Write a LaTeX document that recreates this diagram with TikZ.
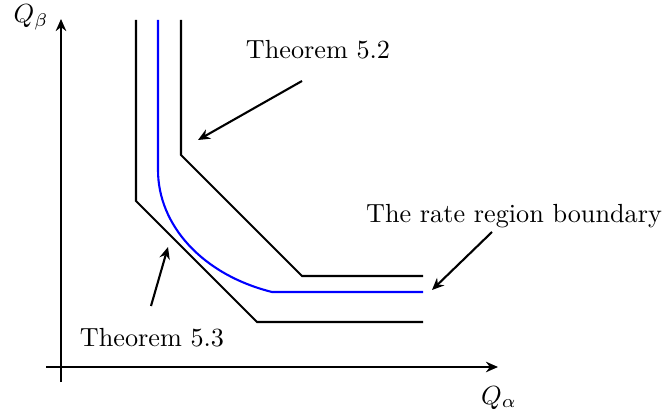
\documentclass[tikz,border=0pt]{standalone}
\usetikzlibrary{arrows.meta}
\begin{document}
\begin{tikzpicture}[x=0.3817pt,y=-0.3817pt,
  axis/.style={thick,-{Stealth[length=4.6pt,width=4pt]}},
  bound/.style={thick,line join=miter},
  rate/.style={thick,blue},
  pointer/.style={thick,-{Stealth[length=4.6pt,width=4pt]}},
  lab/.style={inner sep=0pt,anchor=base}]
\useasboundingbox (0,0) rectangle (664,411);
% axes
\coordinate (yb) at (61,382);
\coordinate (yt) at (61,19);
\coordinate (xl) at (46,367);
\coordinate (xr) at (498,367);
\draw[axis] (yb) -- (yt);
\draw[axis] (xl) -- (xr);
\node[lab] (qb) at (31,23) {$Q_\beta$};
\node[lab] (qa) at (499,404) {$Q_\alpha$};
% bounds
\coordinate (a1) at (136,20);
\coordinate (a2) at (136,201);
\coordinate (a3) at (257,322);
\coordinate (a4) at (423,322);
\draw[bound] (a1) -- (a2) -- (a3) -- (a4);
\coordinate (b1) at (181,20);
\coordinate (b2) at (181,155);
\coordinate (b3) at (302,276);
\coordinate (b4) at (423,276);
\draw[bound] (b1) -- (b2) -- (b3) -- (b4);
\coordinate (c1) at (158,20);
\coordinate (c2) at (158,170);
\coordinate (c3) at (272,292);
\coordinate (c4) at (423,292);
\draw[rate] (c1) -- (c2) .. controls (158,225) and (202,274.5) .. (c3) -- (c4);
% labels
\node[lab] (t52) at (318,59) {Theorem 5.2};
\node[lab] (t53) at (152,347) {Theorem 5.3};
\node[lab] (trr) at (514,223) {The rate region boundary};
\coordinate (p1s) at (302,81);
\coordinate (p1e) at (198,140);
\coordinate (p2s) at (151,306);
\coordinate (p2e) at (168,247);
\coordinate (p3s) at (492,232);
\coordinate (p3e) at (432,290);
\draw[pointer] (p1s) -- (p1e);
\draw[pointer] (p2s) -- (p2e);
\draw[pointer] (p3s) -- (p3e);
\end{tikzpicture}
\end{document}
